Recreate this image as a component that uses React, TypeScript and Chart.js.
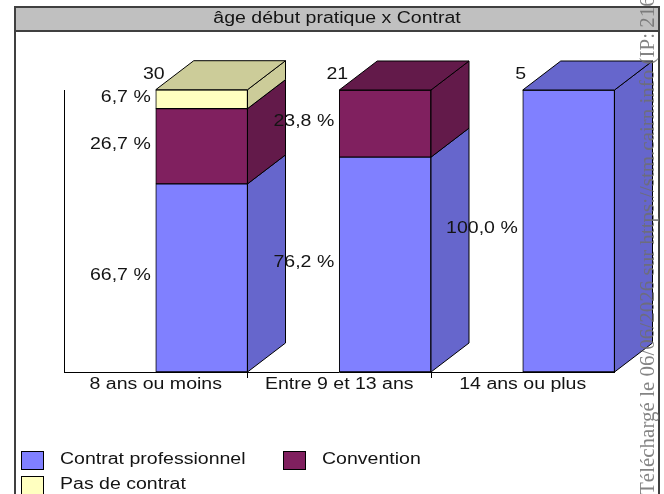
import React, { useEffect, useRef } from 'react';
import { Chart, registerables } from 'chart.js';

Chart.register(...registerables);

// ---- data ----
const chartTitle = 'âge début pratique x Contrat';
const categories = ['8 ans ou moins', 'Entre 9 et 13 ans', '14 ans ou plus'];
const totals = [30, 21, 5];
const seriesNames = ['Contrat professionnel', 'Convention', 'Pas de contrat'];
const contratPro: (number | null)[] = [66.7, 76.2, 100.0];
const convention: (number | null)[] = [26.7, 23.8, null];
const pasDeContrat: (number | null)[] = [6.7, null, null];
const watermark = 'Téléchargé le 06/06/2026 sur https://stm.cairn.info (IP: 216.7';

// ---- styles ----
const FRONT = ['#8080ff', '#80205f', '#ffffc0'];
const SIDE = ['#6666cc', '#631a4a', '#cccc99'];
const DX = 38;
const DY = 29;
const SX = 1.22;
const FONT = '16px "Liberation Sans", Arial, sans-serif';
const TEXT = '#141414';

function sText(ctx: CanvasRenderingContext2D, text: string, x: number, y: number, align: CanvasTextAlign, color = TEXT, font = FONT, sx = SX) {
  ctx.save();
  ctx.translate(x, y);
  ctx.scale(sx, 1);
  ctx.font = font;
  ctx.fillStyle = color;
  ctx.textAlign = align;
  ctx.textBaseline = 'middle';
  ctx.fillText(text, 0, 0);
  ctx.restore();
}

function poly(ctx: CanvasRenderingContext2D, pts: number[][], fill: string) {
  ctx.beginPath();
  ctx.moveTo(pts[0][0], pts[0][1]);
  for (let i = 1; i < pts.length; i++) ctx.lineTo(pts[i][0], pts[i][1]);
  ctx.closePath();
  ctx.fillStyle = fill;
  ctx.fill();
  ctx.strokeStyle = '#000';
  ctx.lineWidth = 1;
  ctx.stroke();
}

const decor = {
  id: 'decor',
  beforeDraw(chart: any) {
    const ctx: CanvasRenderingContext2D = chart.ctx;
    ctx.save();
    ctx.fillStyle = '#ffffff';
    ctx.fillRect(0, 0, chart.width, chart.height);
    // title bar
    ctx.fillStyle = '#c0c0c0';
    ctx.fillRect(15, 7, 644, 24);
    ctx.fillStyle = '#404040';
    ctx.fillRect(14, 6, 646, 2);
    ctx.fillRect(14, 30, 646, 2);
    ctx.fillRect(14, 6, 2, 494);
    ctx.fillRect(658, 6, 2, 494);
    ctx.restore();
    sText(ctx, chartTitle, 337, 19, 'center');
  },
  afterDatasetsDraw(chart: any) {
    const ctx: CanvasRenderingContext2D = chart.ctx;
    const series = [contratPro, convention, pasDeContrat];
    ctx.save();
    for (let i = 0; i < categories.length; i++) {
      let topEl: any = null;
      let topIdx = 0;
      for (let s = 0; s < series.length; s++) {
        const v = series[s][i];
        if (v == null) continue;
        const el: any = chart.getDatasetMeta(s + 1).data[i];
        const right = el.x + el.width / 2;
        const top = el.y;
        const bottom = el.base;
        poly(ctx, [[right, top], [right + DX, top - DY], [right + DX, bottom - DY], [right, bottom]], SIDE[s]);
        if (!topEl || el.y < topEl.y) { topEl = el; topIdx = s; }
      }
      if (topEl) {
        const left = topEl.x - topEl.width / 2;
        const right = topEl.x + topEl.width / 2;
        const top = topEl.y;
        poly(ctx, [[left, top], [left + DX, top - DY], [right + DX, top - DY], [right, top]], SIDE[topIdx]);
      }
    }
    ctx.restore();
    // labels
    for (let i = 0; i < categories.length; i++) {
      let left = 0;
      let top = Infinity;
      for (let s = 0; s < series.length; s++) {
        const v = series[s][i];
        if (v == null) continue;
        const el: any = chart.getDatasetMeta(s + 1).data[i];
        left = el.x - el.width / 2;
        top = Math.min(top, el.y);
        const label = v.toFixed(1).replace('.', ',') + ' %';
        sText(ctx, label, left - 5, (el.y + el.base) / 2 - 2, 'right');
      }
      sText(ctx, String(totals[i]), left - 2, top - 15, 'center');
    }
  },
  afterDraw(chart: any) {
    const ctx: CanvasRenderingContext2D = chart.ctx;
    const xs = chart.scales.x;
    for (let i = 0; i < categories.length; i++) {
      sText(ctx, categories[i], xs.getPixelForValue(i), 385, 'center');
    }
    // legend
    const items = [
      { x: 21, y: 451, s: 0 },
      { x: 283, y: 451, s: 1 },
      { x: 21, y: 476, s: 2 },
    ];
    ctx.save();
    for (const it of items) {
      ctx.fillStyle = FRONT[it.s];
      ctx.fillRect(it.x, it.y, 22, 18);
      ctx.strokeStyle = '#000';
      ctx.lineWidth = 1;
      ctx.strokeRect(it.x + 0.5, it.y + 0.5, 22, 18);
    }
    ctx.restore();
    for (const it of items) {
      sText(ctx, seriesNames[it.s], it.x + 39, it.y + 9, 'left');
    }
    // watermark
    ctx.save();
    ctx.translate(654, 495);
    ctx.rotate(-Math.PI / 2);
    ctx.font = '21px "Liberation Serif", "Times New Roman", serif';
    ctx.fillStyle = 'rgba(110,110,110,0.85)';
    ctx.textAlign = 'left';
    ctx.textBaseline = 'alphabetic';
    ctx.fillText(watermark, 0, 0);
    ctx.restore();
  },
};

export default function App() {
  const ref = useRef<HTMLCanvasElement>(null);
  useEffect(() => {
    const canvas = ref.current;
    if (!canvas) return;
    const mk = (s: number, data: (number | null)[]) => ({
      label: seriesNames[s],
      data,
      stack: 'main',
      backgroundColor: FRONT[s],
      borderColor: '#000',
      borderWidth: 1,
      borderSkipped: false,
      categoryPercentage: 1,
      barPercentage: 1,
    });
    const chart = new Chart(canvas, {
      type: 'bar',
      data: {
        labels: categories,
        datasets: [
          { label: '_gap', data: categories.map(() => null), stack: 'gap', categoryPercentage: 1, barPercentage: 1 } as any,
          mk(0, contratPro),
          mk(1, convention),
          mk(2, pasDeContrat),
        ],
      },
      options: {
        responsive: false,
        devicePixelRatio: 1,
        animation: false,
        events: [],
        layout: { padding: { left: 64, right: 49.5, top: 90, bottom: 116 } },
        plugins: { legend: { display: false }, tooltip: { enabled: false }, title: { display: false } },
        scales: {
          x: {
            offset: true,
            ticks: { display: false },
            grid: {
              display: true,
              drawOnChartArea: false,
              drawTicks: true,
              tickLength: 6,
              color: (c: any) => (c.index === 1 || c.index === 2 ? '#000' : 'rgba(0,0,0,0)'),
            },
            border: { display: true, color: '#000', width: 1 },
          },
          y: {
            stacked: true,
            min: 0,
            max: 100,
            ticks: { display: false },
            grid: { display: false, drawTicks: false },
            border: { display: true, color: '#000', width: 1 },
          },
        },
      },
      plugins: [decor],
    } as any);
    return () => chart.destroy();
  }, []);
  return (
    <div style={{ position: 'fixed', left: 0, top: 0, width: 664, height: 494, background: '#fff' }}>
      <canvas ref={ref} width={664} height={494} style={{ display: 'block', width: 664, height: 494 }} />
    </div>
  );
}
